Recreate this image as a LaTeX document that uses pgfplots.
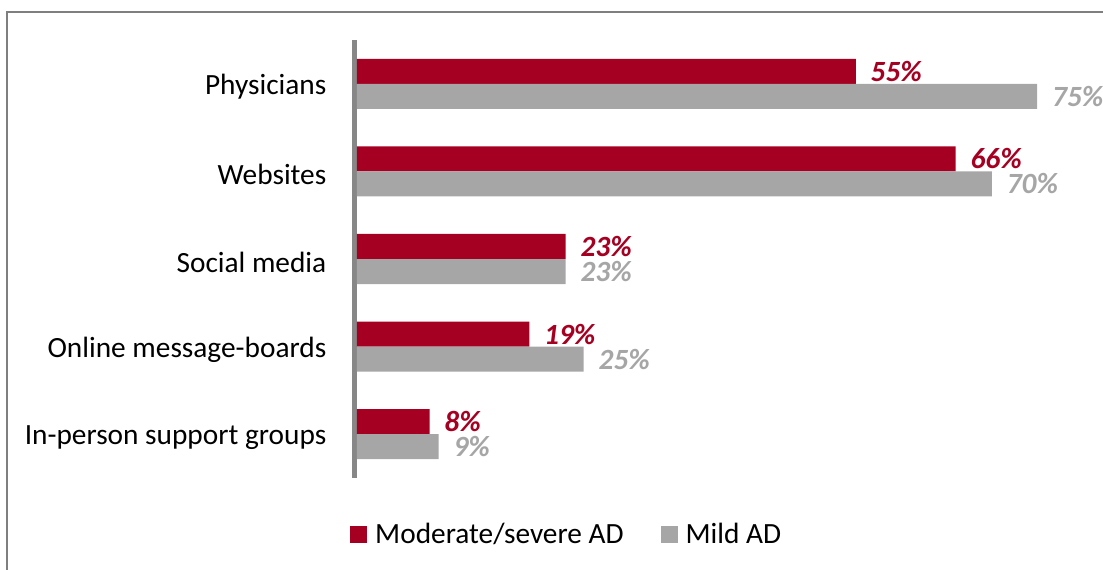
\documentclass[border=0pt]{standalone}
\usepackage{pgfplots}
\pgfplotsset{compat=1.18}
\usepackage{fontspec}
\setmainfont{Carlito}
\definecolor{cRed}{HTML}{A50021}
\definecolor{cGray}{HTML}{A6A6A6}
\definecolor{cLine}{HTML}{878787}
\definecolor{cFrame}{HTML}{7F7F7F}
\begin{document}
\begin{tikzpicture}
\useasboundingbox (0,0) rectangle (827.25pt,-426.75pt);
\draw[cFrame, line width=1.2pt] (5.25pt,-440pt) -- (5.25pt,-9pt) -- (840pt,-9pt);
\begin{axis}[
  at={(265.7pt,-30pt)}, anchor=north west,
  scale only axis, width=546.2pt, height=328.5pt,
  xbar, bar shift=0pt, bar width=18.75pt,
  xmin=-0.3, xmax=80,
  ymin=-0.5, ymax=4.5, y dir=reverse,
  axis x line=none,
  axis y line*=left,
  y axis line style={cLine, line width=3.5pt},
  ytick={0,1,2,3,4},
  yticklabels={Physicians,Websites,Social media,Online message-boards,In-person support groups},
  ytick style={draw=none},
  yticklabel style={font=\fontsize{22}{26}\selectfont, text=black, inner sep=0pt, xshift=-16.5pt, yshift=-2.5pt},
  clip=false,
  point meta=x,
  /pgf/number format/assume math mode=true,
  nodes near coords={\pgfmathprintnumber{\pgfplotspointmeta}\%},
  legend columns=2,
  legend image code/.code={\fill[#1] (0pt,-6.4pt) rectangle (12.75pt,6.4pt);},
  legend style={draw=none, fill=none, at={(-0.0059,-0.1279)}, anchor=west, inner sep=0pt,
    font=\fontsize{22}{26}\selectfont,
    nodes={inner sep=0pt},
    /tikz/every odd column/.append style={column sep=6pt},
    /tikz/every even column/.append style={column sep=27.75pt}},
  legend cell align=left,
]
\addplot[draw=none, fill=cRed,
  nodes near coords style={font=\fontsize{22}{26}\selectfont\bfseries\itshape, text=cRed, anchor=west, inner sep=0pt, xshift=11pt}]
  coordinates {(55,-0.143) (66,0.857) (23,1.857) (19,2.857) (8,3.857)};
\addlegendentry{Moderate/severe AD}
\addplot[draw=none, fill=cGray,
  nodes near coords style={font=\fontsize{22}{26}\selectfont\bfseries\itshape, text=cGray, anchor=west, inner sep=0pt, xshift=11pt}]
  coordinates {(75,0.143) (70,1.143) (23,2.143) (25,3.143) (9,4.143)};
\addlegendentry{Mild AD}
\end{axis}
\end{tikzpicture}
\end{document}
